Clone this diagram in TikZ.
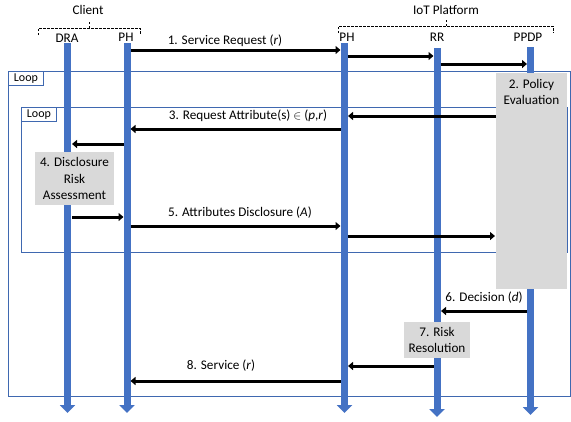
\documentclass[tikz,border=0pt]{standalone}
\usepackage{fontspec}
\setmainfont{Carlito}
\usetikzlibrary{arrows.meta}
\definecolor{lblue}{HTML}{4472C4}
\definecolor{fblue}{HTML}{3F68B0}
\definecolor{boxgray}{HTML}{D9D9D9}
\tikzset{
  lifeline/.style={line width=7pt, lblue, -{Triangle[width=15pt,length=8pt]}},
  msg/.style={line width=3pt, black, -{Triangle[width=8pt,length=5pt]}},
  frame/.style={draw=fblue, line width=0.9pt},
  looplbl/.style={draw=fblue, line width=0.9pt, fill=white, anchor=north west, inner sep=0pt, minimum width=35pt, minimum height=13.5pt, font=\fontsize{12}{14}\selectfont},
  txt/.style={font=\fontsize{13.2}{16.2}\selectfont, inner sep=0pt, align=center},
  gbox/.style={fill=boxgray, draw=none},
  brace/.style={dashed, dash pattern=on 2.5pt off 1.5pt, line width=0.7pt},
}
\begin{document}
\begin{tikzpicture}[x=1pt,y=-1pt]
\useasboundingbox (0,0) rectangle (571,421);
% loop frames
\draw[frame] (8,71) rectangle (570.5,396);
\node[looplbl] (loop1) at (8,71) {Loop};
\draw[frame] (21,107) rectangle (567,252);
\node[looplbl] (loop2) at (21,107) {Loop};
% headers
\node[txt] (client) at (88,10) {Client};
\node[txt] (iot) at (446,10) {IoT Platform};
\draw[brace] (38,35) -- (38,28) -- (140,28) -- (140,35);
\draw[brace] (89,28) -- (89,22);
\draw[brace] (338,33) -- (338,26) -- (553,26) -- (553,33);
\draw[brace] (446,26) -- (446,20);
\node[txt] (hdra) at (67,38) {DRA};
\node[txt] (hcph) at (126,37) {PH};
\node[txt] (hpph) at (347,37) {PH};
\node[txt] (hrr) at (437,37) {RR};
\node[txt] (hppdp) at (528,37) {PPDP};
% lifelines
\coordinate (draT) at (67.5,43); \coordinate (draB) at (67.5,413);
\coordinate (cphT) at (127,43); \coordinate (cphB) at (127,413);
\coordinate (pphT) at (344.5,43); \coordinate (pphB) at (344.5,413);
\coordinate (rrT) at (437,48); \coordinate (rrB) at (437,417);
\coordinate (ppdpT) at (530.5,47); \coordinate (ppdpB) at (530.5,415);
\draw[lifeline] (draT) -- (draB);
\draw[lifeline] (cphT) -- (cphB);
\draw[lifeline] (pphT) -- (pphB);
\draw[lifeline] (rrT) -- (rrB);
\draw[lifeline] (ppdpT) -- (ppdpB);
% gray boxes
\fill[gbox] (496,73) rectangle (567,289);
\node[txt] (pe) at (531.5,92) {2. Policy\\Evaluation};
\node[gbox, txt, minimum width=79pt, minimum height=53pt] (dra) at (74.5,178.5) {4. Disclosure\\Risk\\Assessment};
\node[gbox, txt, minimum width=66pt, minimum height=36pt] (rres) at (437,340) {7. Risk\\Resolution};
% messages
\coordinate (a1) at (130.5,50); \coordinate (b1) at (340.5,50);
\coordinate (a2) at (348,56); \coordinate (b2) at (433.5,56);
\coordinate (a3) at (440.5,64); \coordinate (b3) at (527,64);
\coordinate (a4) at (496,116); \coordinate (b4) at (348,116);
\coordinate (a5) at (340.5,129); \coordinate (b5) at (130.5,129);
\coordinate (a6) at (123.5,144); \coordinate (b6) at (72,144);
\coordinate (a7) at (72,217); \coordinate (b7) at (123.5,217);
\coordinate (a8) at (130.5,226); \coordinate (b8) at (340.5,226);
\coordinate (a9) at (348,236); \coordinate (b9) at (495,236);
\coordinate (a10) at (527,311); \coordinate (b10) at (441,311);
\coordinate (a11) at (433.5,366); \coordinate (b11) at (348,366);
\coordinate (a12) at (340.5,381); \coordinate (b12) at (130.5,381);
\draw[msg] (a1) -- (b1);
\draw[msg] (a2) -- (b2);
\draw[msg] (a3) -- (b3);
\draw[msg] (a4) -- (b4);
\draw[msg] (a5) -- (b5);
\draw[msg] (a6) -- (b6);
\draw[msg] (a7) -- (b7);
\draw[msg] (a8) -- (b8);
\draw[msg] (a9) -- (b9);
\draw[msg] (a10) -- (b10);
\draw[msg] (a11) -- (b11);
\draw[msg] (a12) -- (b12);
% labels
\node[txt] (l1) at (225,41) {1. Service Request (\textit{r})};
\node[txt] (l3) at (248,116) {3. Request Attribute(s) $\in$ (\textit{p},\textit{r})};
\node[txt] (l5) at (240,213) {5. Attributes Disclosure (\textit{A})};
\node[txt] (l6) at (484,298) {6. Decision (\textit{d})};
\node[txt] (l8) at (221,366) {8. Service (\textit{r})};
\end{tikzpicture}
\end{document}
